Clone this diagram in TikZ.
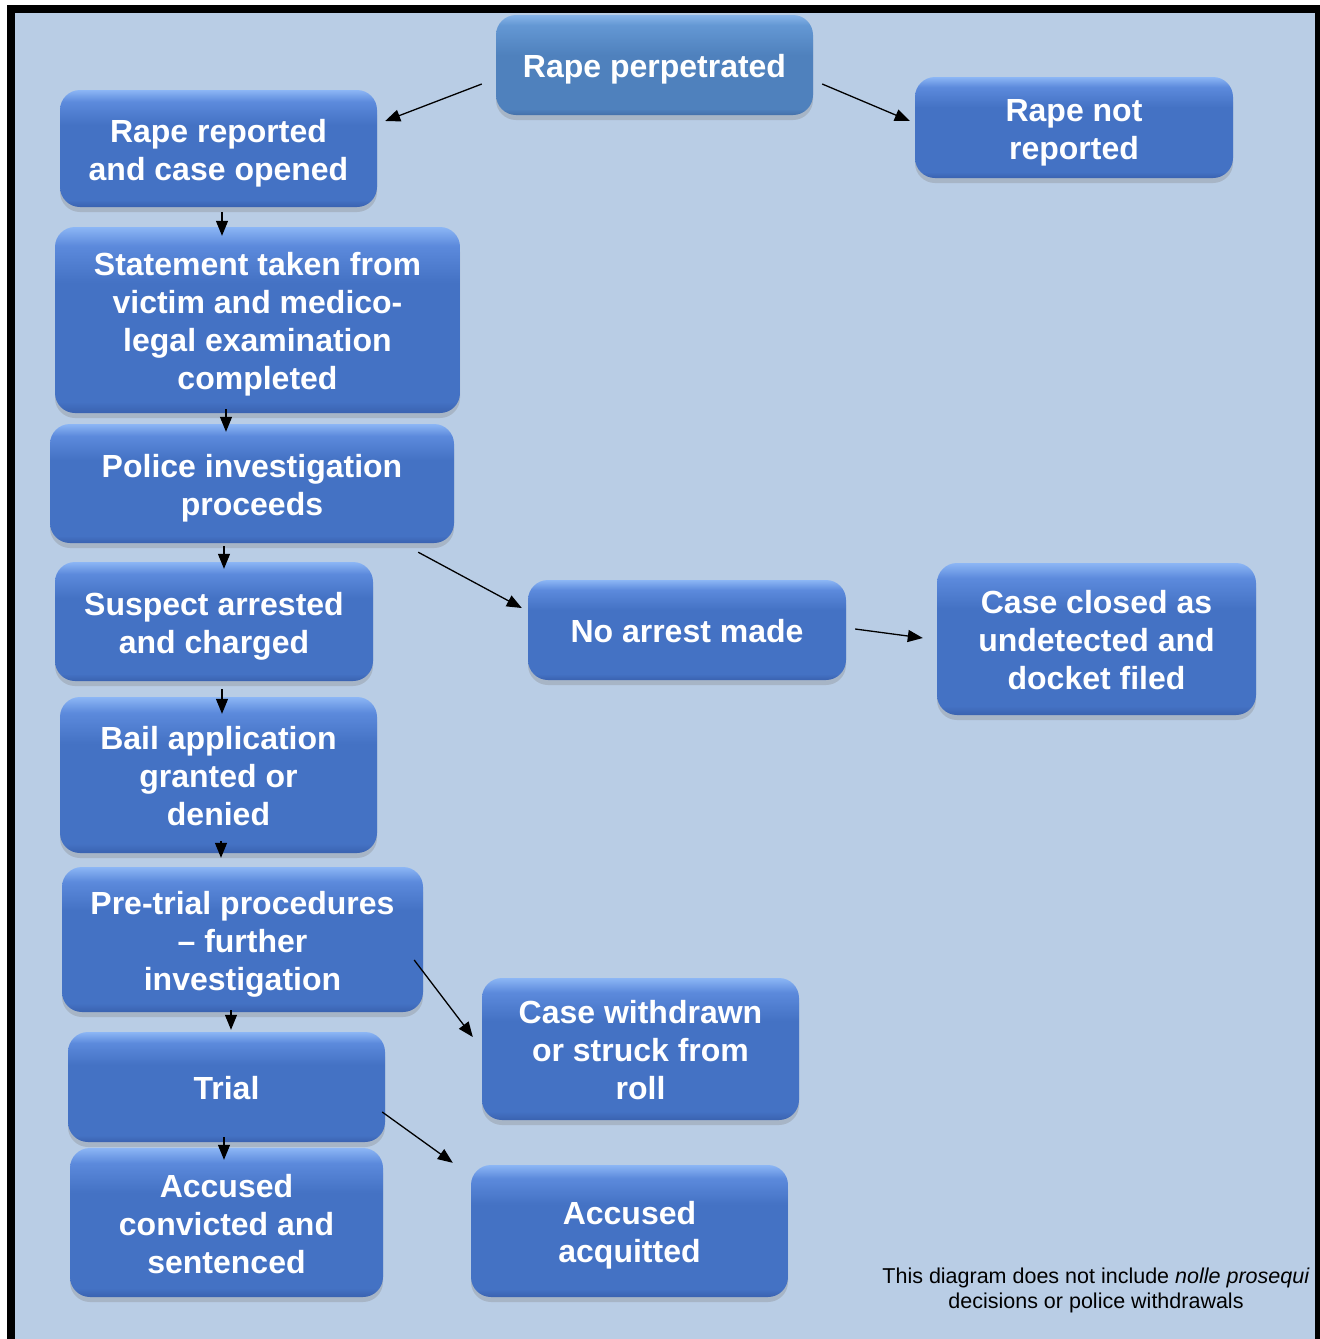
\documentclass[tikz,border=0pt]{standalone}
\usepackage{fontspec}
\setmainfont{Liberation Sans}
\usetikzlibrary{calc,shadows,arrows.meta}
\definecolor{bgc}{RGB}{185,205,229}
\definecolor{bxdark}{RGB}{58,98,176}
\definecolor{bxbase}{RGB}{68,114,196}
\definecolor{bxmid}{RGB}{92,138,220}
\definecolor{bxtop}{RGB}{140,182,245}
\definecolor{sbdark}{RGB}{68,112,170}
\definecolor{sbbase}{RGB}{79,129,189}
\definecolor{sbmid}{RGB}{100,152,212}
\definecolor{sbtop}{RGB}{135,180,232}
\pgfdeclareverticalshading{boxshade}{100bp}{color(0bp)=(bxdark); color(25bp)=(bxdark); color(28bp)=(bxbase); color(60bp)=(bxbase); color(70bp)=(bxmid); color(75bp)=(bxtop); color(100bp)=(bxtop)}
\pgfdeclareverticalshading{topshade}{100bp}{color(0bp)=(sbdark); color(25bp)=(sbdark); color(28bp)=(sbbase); color(55bp)=(sbbase); color(70bp)=(sbmid); color(75bp)=(sbtop); color(100bp)=(sbtop)}
\newcommand\tstr{\rule{0pt}{32pt}}
\newcommand\bstr{\rule[-6.8pt]{0pt}{0pt}}
\tikzset{
  box/.style={rectangle, rounded corners=20pt, inner sep=0pt, shading=boxshade, draw=none,
    drop shadow={shadow xshift=0pt, shadow yshift=-5pt, opacity=0.3},
    text=white, font=\fontsize{32}{38}\selectfont\bfseries, align=center},
  topbox/.style={box, shading=topshade},
  arr/.style={line width=1.3pt, -{Triangle[length=15pt,width=12pt]}},
  note/.style={font=\fontsize{21.5}{25.5}\selectfont, align=center, text=black, inner sep=0pt}
}
\begin{document}
\begin{tikzpicture}[x=1pt,y=-1pt]
\useasboundingbox (0,0) rectangle (1320,1339);
\fill[white] (0,0) rectangle (1320,1339);
\fill[bgc] (11,9) rectangle (1320,1339);
\draw[line width=8pt, black] (11,1345) -- (11,9) -- (1319,9) -- (1319,1345);

\node[topbox, minimum width=317pt, minimum height=100pt] (rp) at (654.5,65) {\tstr Rape perpetrated\bstr};
\node[box, minimum width=317pt, minimum height=117pt] (rr) at (218.5,148.5) {\tstr Rape reported\\and case opened\bstr};
\node[box, minimum width=318pt, minimum height=101pt] (rnr) at (1074,127.5) {\tstr Rape not\\reported\bstr};
\node[box, minimum width=405pt, minimum height=186pt] (st) at (257.5,320) {\tstr Statement taken from\\victim and medico-\\legal examination\\completed\bstr};
\node[box, minimum width=404pt, minimum height=119pt] (pi) at (252,483.5) {\tstr Police investigation\\proceeds\bstr};
\node[box, minimum width=318pt, minimum height=119pt] (sa) at (214,621.5) {\tstr Suspect arrested\\and charged\bstr};
\node[box, minimum width=318pt, minimum height=100pt] (na) at (687,630) {\tstr No arrest made\bstr};
\node[box, minimum width=319pt, minimum height=152pt] (cc) at (1096.5,639) {\tstr Case closed as\\undetected and\\docket filed\bstr};
\node[box, minimum width=317pt, minimum height=156pt] (ba) at (218.5,775) {\tstr Bail application\\granted or\\denied\bstr};
\node[box, minimum width=361pt, minimum height=145pt] (pt) at (242.5,939.5) {\tstr Pre-trial procedures\\\textendash{} further\\investigation\bstr};
\node[box, minimum width=317pt, minimum height=142pt] (cw) at (640.5,1049) {\tstr Case withdrawn\\or struck from\\roll\bstr};
\node[box, minimum width=317pt, minimum height=110pt] (tr) at (226.5,1087) {\tstr Trial\bstr};
\node[box, minimum width=313pt, minimum height=149pt] (ac) at (226.5,1222.5) {\tstr Accused\\convicted and\\sentenced\bstr};
\node[box, minimum width=317pt, minimum height=132pt] (aq) at (629.5,1231) {\tstr Accused\\acquitted\bstr};

\node[note] (nt) at (1096,1290.5) {This diagram does not include \textit{nolle prosequi}\\decisions or police withdrawals};

\draw[arr] ($(rp.west)+(-14,19)$) -- ($(rr.east)+(8,-27.5)$);
\draw[arr] ($(rp.east)+(9,19)$) -- ($(rnr.west)+(-5,-6.5)$);
\draw[arr] ($(rr.south)+(3.5,5)$) -- ($(st.north)+(-35.5,9)$);
\draw[arr] ($(st.south)+(-31.5,-4)$) -- ($(pi.north)+(-26,8)$);
\draw[arr] ($(pi.south)+(-28,3)$) -- ($(sa.north)+(10,7)$);
\draw[arr] ($(sa.south)+(8,8)$) -- ($(ba.north)+(3.5,17)$);
\draw[arr] ($(ba.south)+(2.5,-12)$) -- ($(pt.north)+(-21.5,-9)$);
\draw[arr] ($(pt.south)+(-11.5,-2)$) -- ($(tr.north)+(4.5,-2)$);
\draw[arr] ($(tr.south)+(-2.5,-5)$) -- ($(ac.north)+(-2.5,12)$);
\draw[arr] ($(pi.south east)+(-36,9)$) -- ($(na.west)+(-6,-22)$);
\draw[arr] ($(na.east)+(9,-1)$) -- ($(cc.west)+(-14,-1)$);
\draw[arr] ($(pt.east)+(-9,20.5)$) -- ($(cw.west)+(-9,-12)$);
\draw[arr] ($(tr.east)+(-3,25)$) -- ($(aq.north west)+(-18,-2)$);
\end{tikzpicture}
\end{document}
